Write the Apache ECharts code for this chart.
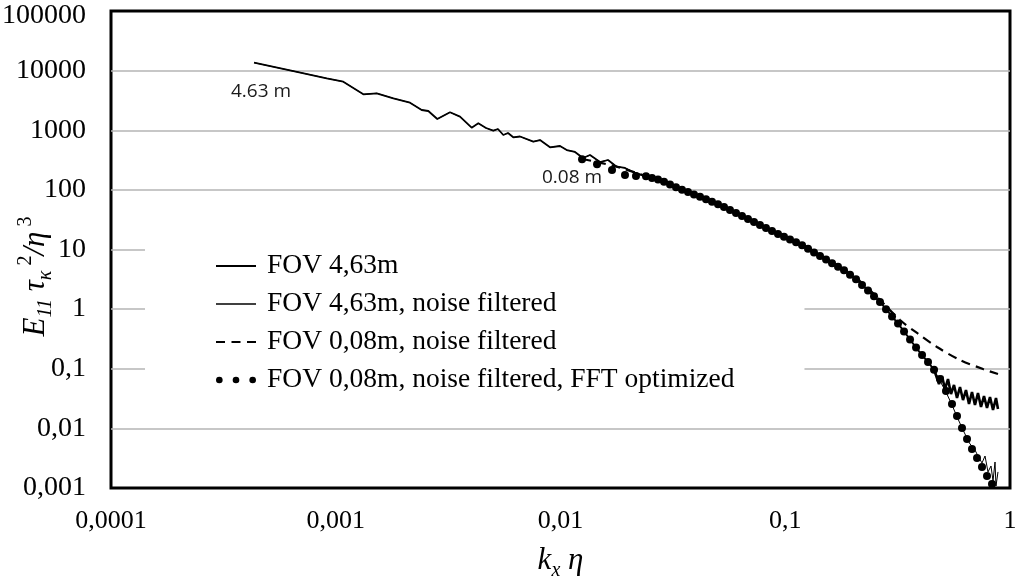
<!DOCTYPE html>
<html>
<head>
<meta charset="utf-8">
<script src="https://cdn.jsdelivr.net/npm/echarts@6/dist/echarts.min.js"></script>
<style>
  html, body { margin: 0; padding: 0; background: #fff; }
  #chart { width: 1016px; height: 585px; }
</style>
</head>
<body>
<div id="chart"></div>
<script>
// Tick labels (decimal comma)
const xTickLabels = ['0,0001', '0,001', '0,01', '0,1', '1'];
const yTickLabels = ['0,001', '0,01', '0,1', '1', '10', '100', '1000', '10000', '100000'];

const seriesNames = [
  'FOV 4,63m',
  'FOV 4,63m, noise filtered',
  'FOV 0,08m, noise filtered',
  'FOV 0,08m, noise filtered, FFT optimized'
];

// Shared spectrum of the 4,63m field of view (k_x*eta, E11*tau_k^2/eta^3)
const kCore = [
  4.33e-4, 6.26e-4, 9.11e-4, 1.080e-3, 1.327e-3, 1.522e-3, 1.804e-3, 2.140e-3, 2.412e-3, 2.581e-3,
  2.830e-3, 3.224e-3, 3.571e-3, 4.025e-3, 4.308e-3, 4.661e-3, 5.023e-3, 5.271e-3, 5.565e-3, 5.840e-3,
  6.166e-3, 6.604e-3, 7.568e-3, 8.107e-3, 8.981e-3, 9.950e-3, 0.01066, 0.01160, 0.01259, 0.01353,
  0.01499, 0.01627, 0.01778, 0.01936, 0.02102,
  0.02401, 0.02554, 0.02716, 0.02888, 0.03071, 0.03265, 0.03472, 0.03693, 0.03926, 0.04176,
  0.04440, 0.04721, 0.05021, 0.05339, 0.05677, 0.06037, 0.06420, 0.06827, 0.07261, 0.07718,
  0.08208, 0.08730, 0.09285, 0.09874, 0.1050, 0.1117, 0.1188, 0.1263, 0.1343, 0.1428,
  0.1519, 0.1615, 0.1717, 0.1826, 0.1942, 0.2065, 0.2196, 0.2335, 0.2483, 0.2640,
  0.2808, 0.2986, 0.3175, 0.3377, 0.3591, 0.3819, 0.4061, 0.4318, 0.4592
];
const eCore = [
  13580, 10090, 7433, 6521, 4008, 4166, 3434, 2898, 2185, 2103,
  1544, 2000, 1688, 1104, 1308, 1091, 983, 1050, 832, 899,
  762, 786, 643, 686, 518, 544, 466, 432, 342, 384,
  293, 317, 245, 233, 199,
  168.9, 158.8, 149.3, 136.6, 123.1, 110.9, 100.3, 91.8, 84.0, 76.8,
  69.8, 63.3, 57.5, 51.6, 45.97, 40.95, 36.47, 32.48, 28.93, 25.76,
  22.94, 20.43, 18.20, 16.33, 14.72, 13.26, 11.81, 10.27, 8.94, 7.78,
  6.77, 5.89, 5.13, 4.48, 3.76, 3.16, 2.55, 2.045, 1.641, 1.317,
  0.997, 0.755, 0.572, 0.423, 0.3094, 0.2263, 0.1694, 0.1293, 0.0964
];

// Unfiltered 4,63m: noisy floor at high wavenumbers (starts at the last core point)
const kTail463 = [
  0.4592, 0.4685, 0.4831, 0.4982, 0.5138, 0.5298, 0.5464, 0.5634, 0.5810, 0.5991, 0.6179, 0.6370,
  0.6570, 0.6774, 0.6985, 0.7203, 0.7430, 0.7662, 0.7900, 0.8147, 0.8403, 0.8663, 0.8842
];
const eTail463 = [
  0.0964, 0.0953, 0.0555, 0.0756, 0.0457, 0.0673, 0.0377, 0.0534, 0.0323, 0.0494, 0.0299, 0.0440,
  0.0256, 0.0407, 0.0247, 0.0392, 0.0228, 0.0349, 0.0220, 0.0336, 0.0203, 0.0323, 0.0211
];

// Noise-filtered 4,63m: keeps falling at high wavenumbers
const kTail463Filt = [
  0.4882, 0.5190, 0.5520, 0.5869, 0.6242, 0.6637, 0.6914, 0.7203,
  0.7506, 0.7742, 0.7981, 0.8232, 0.8403, 0.8577, 0.8663, 0.8842
];
const eTail463Filt = [
  0.0623, 0.0407, 0.02466, 0.01436, 0.00869, 0.00547, 0.00469, 0.00344,
  0.00263, 0.00344, 0.00186, 0.00234, 0.00131, 0.00273, 0.00108, 0.00186
];

// 0,08m field of view, noise filtered
const kFov008 = [
  0.0125, 0.0178, 0.0238, 0.0340, 0.0513, 0.0772, 0.116, 0.143, 0.175,
  0.215, 0.256, 0.3241, 0.3858, 0.4733, 0.5991, 0.7584, 0.8842
];
const eFov008 = [
  330, 245, 171, 103, 55.8, 25.8, 12.4, 7.78, 4.89,
  2.96, 1.597, 0.657, 0.398, 0.2317, 0.1402, 0.0990, 0.0816
];

// 0,08m field of view, noise filtered, FFT optimized
const kFft = [
  0.01247, 0.01454, 0.01695, 0.01936, 0.02167,
  0.02401, 0.02554, 0.02716, 0.02888, 0.03071, 0.03265, 0.03472, 0.03693, 0.03926, 0.04176,
  0.04440, 0.04721, 0.05021, 0.05339, 0.05677, 0.06037, 0.06420, 0.06827, 0.07261, 0.07718,
  0.08208, 0.08730, 0.09285, 0.09874, 0.1050, 0.1117, 0.1188, 0.1263, 0.1343, 0.1428,
  0.1519, 0.1615, 0.1717, 0.1826, 0.1942, 0.2065, 0.2196, 0.2335, 0.2483, 0.2640,
  0.2808, 0.2986, 0.3175, 0.3377, 0.3591, 0.3819, 0.4061, 0.4318, 0.4592,
  0.4882, 0.5190, 0.5520, 0.5810, 0.6115, 0.6438, 0.6774, 0.7133, 0.7506, 0.7900, 0.8315
];
const eFft = [
  325.7, 268.5, 215.4, 177.6, 171,
  168.9, 158.8, 149.3, 136.6, 123.1, 110.9, 100.3, 91.8, 84.0, 76.8,
  69.8, 63.3, 57.5, 51.6, 45.97, 40.95, 36.47, 32.48, 28.93, 25.76,
  22.94, 20.43, 18.20, 16.33, 14.72, 13.26, 11.81, 10.27, 8.94, 7.78,
  6.77, 5.89, 5.13, 4.48, 3.76, 3.16, 2.55, 2.045, 1.641, 1.317,
  0.997, 0.755, 0.572, 0.423, 0.3094, 0.2263, 0.1694, 0.1293, 0.0964,
  0.0673, 0.04234, 0.0256, 0.01612, 0.01015, 0.00663, 0.00451, 0.00318, 0.00225, 0.00159, 0.00117
];

// Curve annotations
const annotations = [
  { text: '4.63 m', k: 4.65e-4, e: 4380 },
  { text: '0.08 m', k: 0.01125, e: 158 }
];

function pairs(ks, es) { return ks.map((k, i) => [k, es[i]]); }

const SERIF = 'Liberation Serif';
const decadeLabel = (labels, offset) => v => {
  const i = Math.round(Math.log10(v)) + offset;
  return labels[i] !== undefined ? labels[i] : '';
};
// top y label is nudged down so it stays inside the canvas
const yLabel = v => {
  const s = decadeLabel(yTickLabels, 3)(v);
  return Math.round(Math.log10(v)) === 5 ? '{top|' + s + '}' : s;
};

const richTitle = {
  i:   { fontFamily: SERIF, fontStyle: 'italic', fontSize: 31, lineHeight: 40, color: '#000' },
  sub: { fontFamily: SERIF, fontStyle: 'italic', fontSize: 20, lineHeight: 40, verticalAlign: 'bottom', color: '#000' },
  sup: { fontFamily: SERIF, fontSize: 20, lineHeight: 40, verticalAlign: 'top', color: '#000' }
};

// Legend glyphs: thick line, thin line, dashes, dots
const iconThick = 'path://M0,0h40v2.2h-40Z';
const iconThin = 'path://M0,0h40v1.4h-40Z';
const iconDash = 'path://M0,0h9v2.2h-9Z M15.5,0h9v2.2h-9Z M31,0h9v2.2h-9Z';
const iconDots = 'path://M0,3a3,3 0 1,0 6,0a3,3 0 1,0 -6,0Z M15,3a3,3 0 1,0 6,0a3,3 0 1,0 -6,0Z M30,3a3,3 0 1,0 6,0a3,3 0 1,0 -6,0Z';

const annotationLabel = {
  show: true, position: 'inside', formatter: '{b}',
  color: '#1a1a1a', fontFamily: 'Open Sans', fontSize: 19
};

const chart = echarts.init(document.getElementById('chart'), null, { renderer: 'canvas' });

chart.setOption({
  animation: false,
  backgroundColor: '#fff',
  grid: {
    left: 111, right: 6, top: 11, bottom: 97,
    containLabel: false, outerBoundsMode: 'none',
    show: true, borderColor: '#000', borderWidth: 3, backgroundColor: 'transparent'
  },
  legend: {
    orient: 'vertical',
    left: 145, top: 246,
    padding: [6, 70, 6, 71],
    backgroundColor: '#fff',
    itemWidth: 40, itemHeight: 14, itemGap: 10,
    selectedMode: false,
    textStyle: { fontFamily: SERIF, fontSize: 27.5, color: '#000', lineHeight: 28, padding: [0, 0, 0, 6] },
    data: [
      { name: seriesNames[0], icon: iconThick, itemStyle: { color: '#000', opacity: 1 } },
      { name: seriesNames[1], icon: iconThin, itemStyle: { color: '#000', opacity: 1 } },
      { name: seriesNames[2], icon: iconDash, itemStyle: { color: '#000', opacity: 1 } },
      { name: seriesNames[3], icon: iconDots, itemStyle: { color: '#000', opacity: 1 } }
    ]
  },
  xAxis: {
    type: 'log', logBase: 10, min: 0.0001, max: 1, splitNumber: 4,
    axisLine: { show: false },
    axisTick: { show: false },
    splitLine: { show: false },
    axisLabel: {
      margin: 20, color: '#000', fontFamily: SERIF, fontSize: 26,
      formatter: decadeLabel(xTickLabels, 4)
    },
    name: '{i|k}{sub|x}{i| η}',
    nameLocation: 'middle', nameGap: 53, nameMoveOverlap: false,
    nameTextStyle: { rich: richTitle }
  },
  yAxis: {
    type: 'log', logBase: 10, min: 0.001, max: 100000, splitNumber: 8,
    axisLine: { show: false },
    axisTick: { show: false },
    splitLine: { show: true, showMinLine: false, showMaxLine: false, lineStyle: { color: '#b4b4b4', width: 1.5 } },
    axisLabel: {
      margin: 25, color: '#000', fontFamily: SERIF, fontSize: 28,
      formatter: yLabel,
      rich: { top: { fontFamily: SERIF, fontSize: 28, color: '#000', padding: [9, 0, 0, 0] } }
    },
    name: '{i|E}{sub|11}{i| τ}{sub|κ }{sup|2}{i|/η}{sup| 3}',
    nameLocation: 'middle', nameGap: 55, nameRotate: 90, nameMoveOverlap: false,
    nameTextStyle: { rich: richTitle, padding: [0, 54, 0, 0] }
  },
  series: [
    {
      name: seriesNames[2], type: 'line', symbol: 'none', smooth: 0.3,
      data: pairs(kFov008, eFov008),
      lineStyle: { color: '#000', width: 2.2, type: [9, 6] },
      itemStyle: { color: '#000' }, z: 2,
      markPoint: {
        silent: true, symbol: 'circle', symbolSize: 0, label: annotationLabel,
        data: [{ name: annotations[1].text, coord: [annotations[1].k, annotations[1].e] }]
      }
    },
    {
      name: seriesNames[0], type: 'line', symbol: 'none',
      data: pairs(kCore, eCore),
      lineStyle: { color: '#000', width: 1.8 },
      itemStyle: { color: '#000' }, z: 3,
      markPoint: {
        silent: true, symbol: 'circle', symbolSize: 0, label: annotationLabel,
        data: [{ name: annotations[0].text, coord: [annotations[0].k, annotations[0].e] }]
      }
    },
    {
      // noisy high-wavenumber end of the same 4,63m spectrum
      name: seriesNames[0], type: 'line', symbol: 'none',
      data: pairs(kTail463, eTail463),
      lineStyle: { color: '#000', width: 2.6, join: 'bevel' },
      itemStyle: { color: '#000' }, z: 3
    },
    {
      name: seriesNames[1], type: 'line', symbol: 'none',
      data: pairs(kCore, eCore).concat(pairs(kTail463Filt, eTail463Filt)),
      lineStyle: { color: '#000', width: 1 },
      itemStyle: { color: '#000' }, z: 3
    },
    {
      name: seriesNames[3], type: 'scatter', symbol: 'circle', symbolSize: 8,
      data: pairs(kFft, eFft),
      itemStyle: { color: '#000', opacity: 1 }, z: 4
    }
  ]
});
</script>
</body>
</html>
